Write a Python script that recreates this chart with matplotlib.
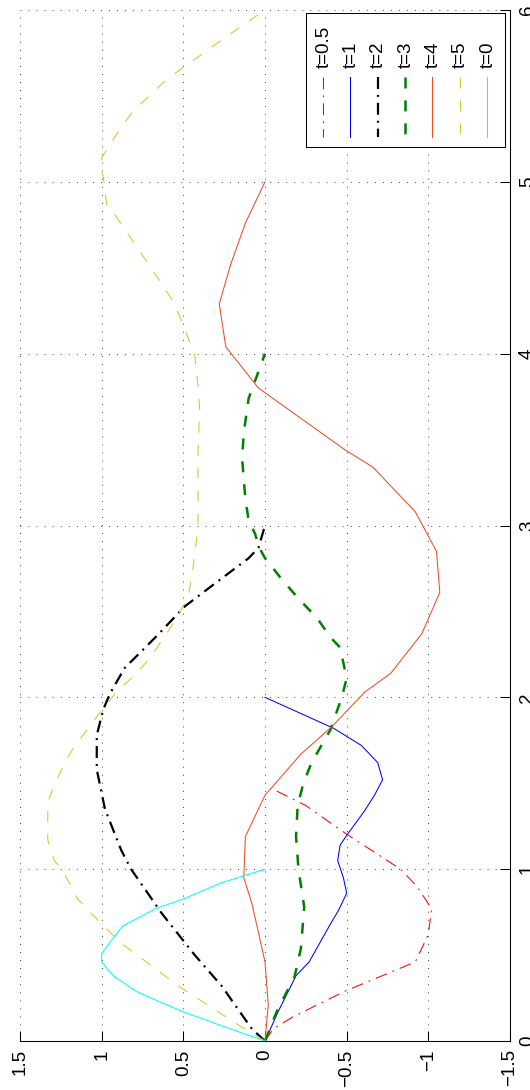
import matplotlib
matplotlib.use('Agg')
import matplotlib.pyplot as plt
from matplotlib.lines import Line2D
from matplotlib.patches import Rectangle

plt.rcParams['font.family'] = ['Liberation Sans', 'DejaVu Sans']
plt.rcParams['lines.scale_dashes'] = False

# wave profiles u(x) at several times
x_t05 = [0, 0.07, 0.14, 0.29, 0.46, 0.62, 0.77, 0.90, 1.0, 1.21, 1.37, 1.47]
u_t05 = [0, -0.05, -0.17, -0.49, -0.92, -1.0, -1.02, -0.93, -0.83, -0.49, -0.25, -0.04]

x_t1 = [0, 0.17, 0.38, 0.46, 0.68, 0.76, 0.86, 0.95, 1.05, 1.14, 1.21, 1.34,
        1.43, 1.52, 1.62, 1.72, 1.82, 2.0]
u_t1 = [0, -0.08, -0.19, -0.27, -0.40, -0.45, -0.50, -0.48, -0.445, -0.46, -0.51,
        -0.61, -0.67, -0.72, -0.69, -0.59, -0.42, 0]

x_t2 = [0, 0.07, 0.32, 0.50, 0.74, 1.0, 1.11, 1.35, 1.58, 1.78, 1.93, 2.02, 2.17,
        2.35, 2.53, 2.66, 2.81, 2.87, 3.0]
u_t2 = [0, 0.08, 0.265, 0.43, 0.63, 0.82, 0.88, 0.98, 1.03, 1.03, 0.99, 0.95, 0.86,
        0.67, 0.49, 0.31, 0.10, 0.04, 0]

x_t3 = [0, 0.19, 0.37, 0.54, 0.78, 1.0, 1.19, 1.37, 1.50, 1.62, 1.81, 2.0, 2.11,
        2.29, 2.35, 2.46, 2.58, 2.69, 2.81, 2.88, 2.95, 3.03, 3.15, 3.39, 3.54,
        3.74, 4.0]
u_t3 = [0, -0.08, -0.18, -0.22, -0.24, -0.205, -0.19, -0.20, -0.235, -0.285, -0.40,
        -0.47, -0.50, -0.46, -0.40, -0.32, -0.20, -0.10, 0.0, 0.04, 0.06, 0.10,
        0.12, 0.14, 0.13, 0.10, 0]

x_t4 = [0, 0.21, 0.46, 0.80, 0.95, 1.19, 1.43, 1.67, 1.83, 2.03, 2.14, 2.37, 2.61,
        2.85, 3.08, 3.34, 3.44, 3.80, 4.04, 4.29, 4.52, 4.76, 5.0]
u_t4 = [0, -0.02, 0.0, 0.08, 0.13, 0.12, 0.0, -0.22, -0.41, -0.61, -0.77, -0.96,
        -1.07, -1.05, -0.92, -0.66, -0.49, 0.04, 0.24, 0.28, 0.21, 0.12, 0]

x_t5 = [0, 0.11, 0.32, 0.57, 0.68, 0.83, 0.89, 0.94, 1.0, 1.05, 1.17, 1.39, 1.44,
        1.51, 1.63, 1.71, 1.81, 1.90, 2.03, 2.11, 2.22, 2.39, 2.50, 2.58, 2.76,
        2.91, 3.03, 3.44, 3.68, 3.81, 3.99, 4.04, 4.19, 4.30, 4.46, 4.81, 4.87,
        5.03, 5.06, 5.14, 5.26, 5.41, 5.49, 5.58, 5.66, 5.74, 5.84, 6.0]
u_t5 = [0, 0.19, 0.53, 0.88, 1.0, 1.15, 1.18, 1.21, 1.245, 1.29, 1.33, 1.33, 1.31,
        1.28, 1.22, 1.17, 1.09, 1.02, 0.91, 0.82, 0.71, 0.59, 0.52, 0.47, 0.44,
        0.42, 0.41, 0.41, 0.40, 0.41, 0.43, 0.45, 0.51, 0.56, 0.67, 0.92, 0.97,
        0.99, 1.0, 1.0, 0.92, 0.81, 0.72, 0.62, 0.51, 0.39, 0.245, 0]

x_t0 = [0, 0.09, 0.17, 0.23, 0.29, 0.38, 0.46, 0.51, 0.61, 0.67, 0.77, 0.83, 0.92, 1.0]
u_t0 = [0, 0.27, 0.50, 0.65, 0.79, 0.93, 1.00, 1.00, 0.92, 0.87, 0.67, 0.49, 0.27, 0]

labels = ['t=0.5', 't=1', 't=2', 't=3', 't=4', 't=5', 't=0']
xs = [x_t05, x_t1, x_t2, x_t3, x_t4, x_t5, x_t0]
us = [u_t05, u_t1, u_t2, u_t3, u_t4, u_t5, u_t0]

dashdot = (0, (8.6, 4.3, 1.4, 4.3))
dashed = (0, (7.9, 8.6))
styles = [
    dict(color='#ff0000', ls=dashdot, lw=0.75),
    dict(color='#0000ff', ls='-', lw=0.75),
    dict(color='#000000', ls=dashdot, lw=1.6),
    dict(color='#008000', ls=dashed, lw=1.8),
    dict(color='#eb4d26', ls='-', lw=0.75),
    dict(color='#cfc92a', ls=dashed, lw=0.75),
    dict(color='#00ffff', ls='-', lw=0.75),
]

W, H, DPI = 530, 1090, 100
fig = plt.figure(figsize=(W / DPI, H / DPI), dpi=DPI)
ax = fig.add_axes([20 / W, 49 / H, 490 / W, 1031 / H])

# the plot is laid out sideways: position runs up, amplitude runs right-to-left
for xv, uv, st in zip(xs, us, styles):
    ax.plot(uv, xv, color=st['color'], linestyle=st['ls'], linewidth=st['lw'])

ax.set_xlim(1.5, -1.5)
ax.set_ylim(0, 6)

ax.set_xticks([1.5, 1, 0.5, 0, -0.5, -1, -1.5])
ax.set_xticklabels(['1.5', '1', '0.5', '0', '\u22120.5', '\u22121', '\u22121.5'])
ax.set_yticks([0, 1, 2, 3, 4, 5, 6])
ax.set_yticklabels(['0', '1', '2', '3', '4', '5', '6'])
ax.yaxis.tick_right()

ax.tick_params(axis='both', direction='in', length=7, width=0.75, labelsize=13.5,
               color='black')
ax.tick_params(axis='x', pad=6)
ax.tick_params(axis='y', pad=6.5)
for lbl in ax.get_xticklabels():
    lbl.set_rotation(90)
    lbl.set_ha('center')
    lbl.set_va('top')
for lbl in ax.get_yticklabels():
    lbl.set_rotation(90)
    lbl.set_ha('left')
    lbl.set_va('center')

ax.spines['top'].set_visible(False)
ax.spines['left'].set_visible(False)
for s in ('bottom', 'right'):
    ax.spines[s].set_linewidth(0.75)

ax.grid(True, color='black', linestyle=(0, (0.6, 5.2)), linewidth=0.6)

# legend box, laid out sideways to follow the plot orientation
def fx(px):
    return px / W


def fy(py):
    return 1 - py / H


fig.add_artist(Rectangle((fx(306), fy(147)), 199 / W, 134 / H,
                         transform=fig.transFigure, facecolor='white',
                         edgecolor='black', linewidth=0.75, zorder=5))
for i, (lab, st) in enumerate(zip(labels, styles)):
    cx = 323 + 27.3 * i
    fig.add_artist(Line2D([fx(cx), fx(cx)], [fy(77), fy(137)],
                          transform=fig.transFigure, color=st['color'],
                          linestyle=st['ls'], linewidth=st['lw'], zorder=6))
    fig.text(fx(cx + 1), fy(68), lab, rotation=90, ha='center', va='bottom',
             fontsize=13.5, zorder=6)

fig.savefig('out.png', dpi=DPI)
